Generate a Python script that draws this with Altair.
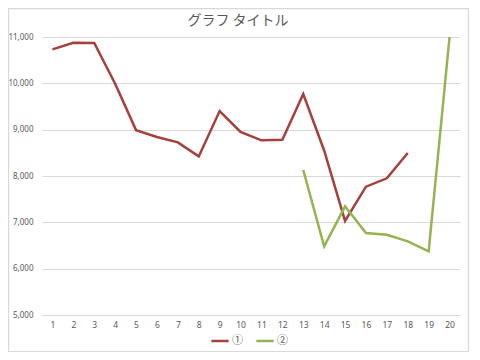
import altair as alt
import pandas as pd

categories = list(range(1, 21))
series1_x = list(range(1, 19))
series1_y = [10734, 10877, 10870, 9990, 8990, 8842, 8726, 8423, 9402, 8950,
             8770, 8780, 9769, 8550, 7030, 7769, 7950, 8497]
series2_x = list(range(13, 21))
series2_y = [8130, 6480, 7346, 6769, 6730, 6590, 6374, 11000]
series_names = ["①", "②"]
y_ticks = [5000, 6000, 7000, 8000, 9000, 10000, 11000]
title_text = "グラフ タイトル"

rows = []
for x, y in zip(series1_x, series1_y):
    rows.append({"x": x, "y": y, "s": series_names[0]})
for x, y in zip(series2_x, series2_y):
    rows.append({"x": x, "y": y, "s": series_names[1]})
df = pd.DataFrame(rows)

FONT = "Noto Sans CJK JP"
TXT = "#595959"

lines = alt.Chart(df).mark_line(strokeWidth=2.5).encode(
    x=alt.X("x:O", sort=categories, scale=alt.Scale(domain=categories, paddingInner=1, paddingOuter=0.5),
            axis=alt.Axis(title=None, labelAngle=0, ticks=False, domain=False, grid=False,
                          labelColor=TXT, labelFontSize=8.5, labelFont="Noto Sans", labelPadding=5)),
    y=alt.Y("y:Q", scale=alt.Scale(domain=[5000, 11000], nice=False),
            axis=alt.Axis(title=None, values=y_ticks, format=",d", ticks=False, domain=False,
                          gridColor="#D9D9D9", gridWidth=1.2, labelColor=TXT, labelFontSize=8,
                          labelFont="Noto Sans", labelPadding=9)),
    color=alt.Color("s:N", scale=alt.Scale(domain=series_names, range=["#A5403D", "#94B450"]),
                    legend=alt.Legend(title=None, orient="none", direction="horizontal",
                                      legendX=168, legendY=294, symbolType="stroke",
                                      symbolSize=300, symbolStrokeWidth=2.5, labelFontSize=11,
                                      labelColor=TXT, labelFont=FONT, columnPadding=8,
                                      labelOffset=2)),
)

border = alt.Chart(pd.DataFrame({"a": [0]})).mark_rect(
    fill=None, stroke="#D9D9D9", strokeWidth=1.2
).encode(x=alt.value(-33.4), x2=alt.value(426.5), y=alt.value(-28.4), y2=alt.value(314.5))

title = alt.Chart(pd.DataFrame({"t": [title_text]})).mark_text(
    font=FONT, fontSize=14, color=TXT, align="center", baseline="middle"
).encode(text="t:N", x=alt.value(196), y=alt.value(-16))

chart = alt.layer(border, lines, title).properties(
    width=418, height=278,
    autosize=alt.AutoSizeParams(type="none"),
    padding={"left": 34, "top": 29, "right": 12, "bottom": 45},
).configure_view(stroke=None)

chart.save("out.html", embed_options={"renderer": "svg", "actions": False})
